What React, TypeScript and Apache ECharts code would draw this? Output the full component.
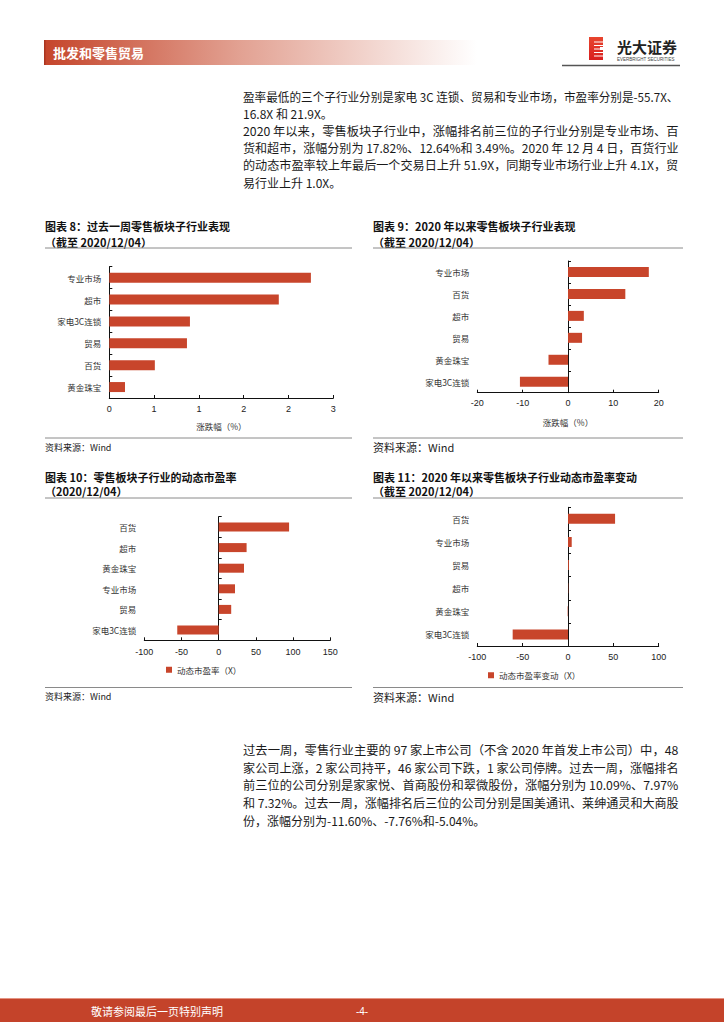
import React, { useEffect, useRef } from "react";
import * as echarts from "echarts";

const FONT = "'Liberation Sans', 'Noto Sans CJK SC', sans-serif";
const CJK = "'Noto Sans CJK SC', sans-serif";
const BAR = "#C8452B";

// 图表 8：过去一周零售板块子行业表现
const cats8 = ["专业市场", "超市", "家电3C连锁", "贸易", "百货", "黄金珠宝"];
const vals8 = [2.7, 2.27, 1.08, 1.04, 0.61, 0.21];
// 图表 9：2020 年以来零售板块子行业表现
const cats9 = ["专业市场", "百货", "超市", "贸易", "黄金珠宝", "家电3C连锁"];
const vals9 = [17.82, 12.64, 3.49, 3.1, -4.3, -10.6];
// 图表 10：零售板块子行业的动态市盈率
const cats10 = ["百货", "超市", "黄金珠宝", "专业市场", "贸易", "家电3C连锁"];
const vals10 = [94.6, 37.5, 34.0, 21.9, 16.8, -55.7];
// 图表 11：2020 年以来零售板块子行业动态市盈率变动
const cats11 = ["百货", "专业市场", "贸易", "超市", "黄金珠宝", "家电3C连锁"];
const vals11 = [51.9, 4.1, 1.0, 0.3, -0.4, -61.0];

const allCats = [cats8, cats9, cats10, cats11];
const allVals = [vals8, vals9, vals10, vals11];

// value-axis ticks
const axisMin = [0, -20, -100, -100];
const axisMax = [3, 20, 150, 100];
const axisStep = [0.6, 10, 50, 50];
const axisNames = ["涨跌幅（%）", "涨跌幅（%）", "", ""];
const seriesNames = ["涨跌幅（%）", "涨跌幅（%） ", "动态市盈率（X）", "动态市盈率变动（X）"];

const titles = [
  ["图表 8：过去一周零售板块子行业表现", "（截至 2020/12/04）"],
  ["图表 9：2020 年以来零售板块子行业表现", "（截至 2020/12/04）"],
  ["图表 10：零售板块子行业的动态市盈率", "（2020/12/04）"],
  ["图表 11：2020 年以来零售板块子行业动态市盈率变动", "（截至 2020/12/04）"],
];
const sourceText = "资料来源：Wind";

const para1 = [
  "盈率最低的三个子行业分别是家电 3C 连锁、贸易和专业市场，市盈率分别是-55.7X、",
  "16.8X 和 21.9X。",
];
const para2 = [
  "2020 年以来，零售板块子行业中，涨幅排名前三位的子行业分别是专业市场、百",
  "货和超市，涨幅分别为 17.82%、12.64%和 3.49%。2020 年 12 月 4 日，百货行业",
  "的动态市盈率较上年最后一个交易日上升 51.9X，同期专业市场行业上升 4.1X，贸",
  "易行业上升 1.0X。",
];
const para3 = [
  "过去一周，零售行业主要的 97 家上市公司（不含 2020 年首发上市公司）中，48",
  "家公司上涨，2 家公司持平，46 家公司下跌，1 家公司停牌。过去一周，涨幅排名",
  "前三位的公司分别是家家悦、首商股份和翠微股份，涨幅分别为 10.09%、7.97%",
  "和 7.32%。过去一周，涨幅排名后三位的公司分别是国美通讯、莱绅通灵和大商股",
  "份，涨幅分别为-11.60%、-7.76%和-5.04%。",
];

// layout (page pixels)
const grids = [
  { left: 109.3, top: 266.7, width: 224, height: 131.3 },
  { left: 477.3, top: 261, width: 181.4, height: 131.7 },
  { left: 144.3, top: 516.7, width: 186, height: 123.6 },
  { left: 477.3, top: 507.3, width: 181.4, height: 138.7 },
];
const panels = [
  { x: 45, x2: 352, t1: 226, t2: 242, sep: 248, bot: 438, src: 447, srcSize: 9 },
  { x: 373, x2: 683, t1: 226, t2: 242, sep: 248, bot: 438, src: 447, srcSize: 11 },
  { x: 45, x2: 352, t1: 476.7, t2: 491, sep: 498, bot: 687.5, src: 696, srcSize: 9 },
  { x: 373, x2: 683, t1: 476.7, t2: 491, sep: 498, bot: 687.5, src: 697, srcSize: 11 },
];
const labelGap = [6, 6, 7, 6];
const nameGap = [24, 25, 0, 0];
const TEXT_LEFT = 243;
const TEXT_WIDTH = 436;

function txt(x: number, y: number, text: string, font: string, fill = "#111", align = "left", scaleX = 1) {
  return {
    type: "text",
    x,
    y,
    scaleX,
    silent: true,
    style: {
      text,
      font,
      fill,
      align,
      textAlign: align,
      verticalAlign: "middle",
      textVerticalAlign: "middle",
    },
  };
}
function ln(x1: number, y1: number, x2: number, y2: number, stroke: any, lineWidth = 1) {
  return { type: "line", silent: true, shape: { x1, y1, x2, y2 }, style: { stroke, lineWidth } };
}
function rc(x: number, y: number, width: number, height: number, fill: any) {
  return { type: "rect", silent: true, shape: { x, y, width, height }, style: { fill } };
}
function measure(text: string, font: string) {
  try {
    const t = new (echarts.graphic as any).Text({ style: { text, font } });
    return t.getBoundingRect().width;
  } catch (e) {
    return TEXT_WIDTH;
  }
}
function paragraph(lines: string[], y0: number, step: number, font: string, out: any[]) {
  lines.forEach((s, k) => {
    const last = k === lines.length - 1;
    let sx = 1;
    if (!last) {
      const w = measure(s, font);
      if (w > 0) sx = Math.max(0.9, Math.min(1.12, TEXT_WIDTH / w));
    }
    out.push(txt(TEXT_LEFT, y0 + k * step, s, font, "#1a1a1a", "left", sx));
  });
}

export default function App() {
  const ref = useRef<HTMLDivElement>(null);
  useEffect(() => {
    if (!ref.current) return;
    const chart = echarts.init(ref.current, null, { renderer: "svg" });

    const xAxis: any[] = [];
    const yAxis: any[] = [];
    const series: any[] = [];
    for (let i = 0; i < 4; i++) {
      xAxis.push({
        type: "value",
        gridIndex: i,
        min: axisMin[i],
        max: axisMax[i],
        interval: axisStep[i],
        name: axisNames[i],
        nameLocation: "middle",
        nameGap: nameGap[i],
        nameTextStyle: { fontSize: 8.5, color: "#333", fontFamily: CJK },
        axisLine: { show: true, onZero: false, lineStyle: { color: "#111", width: 1 } },
        axisTick: { show: true, inside: true, length: 3, lineStyle: { color: "#111" } },
        splitLine: { show: false },
        axisLabel: {
          fontSize: 9,
          color: "#222",
          margin: labelGap[i],
          fontFamily: FONT,
          formatter: i === 0 ? (v: number) => String(Math.round(v)) : undefined,
        },
      });
      // label axis (at plot left)
      yAxis.push({
        type: "category",
        gridIndex: i,
        data: allCats[i],
        inverse: true,
        position: "left",
        axisLine: { show: false, onZero: false },
        axisTick: { show: false },
        axisLabel: { interval: 0, fontSize: 8.5, color: "#333", margin: 8, fontFamily: CJK },
      });
      // line axis (at zero)
      yAxis.push({
        type: "category",
        gridIndex: i,
        data: allCats[i],
        inverse: true,
        position: "left",
        axisLine: { show: true, onZero: true, lineStyle: { color: "#111", width: 1 } },
        axisTick: { show: true, inside: true, length: 3, lineStyle: { color: "#111" } },
        axisLabel: { show: false },
      });
      series.push({
        type: "bar",
        name: seriesNames[i],
        xAxisIndex: i,
        yAxisIndex: i * 2,
        data: allVals[i],
        barWidth: i === 2 ? 9 : 10,
        itemStyle: { color: BAR },
        silent: true,
      });
    }

    const graphics: any[] = [];
    // header
    graphics.push(
      rc(44, 40, 433, 25, new echarts.graphic.LinearGradient(0, 0, 1, 0, [
        { offset: 0, color: "#C5452B" },
        { offset: 0.45, color: "#E2A192" },
        { offset: 1, color: "#FFFFFF" },
      ]))
    );
    graphics.push(rc(44, 40, 1.5, 25, "#A93520"));
    graphics.push(
      ln(43, 65.8, 477, 65.8, new echarts.graphic.LinearGradient(0, 0, 1, 0, [
        { offset: 0, color: "#666666" },
        { offset: 1, color: "#FFFFFF" },
      ]), 1.2)
    );
    graphics.push(txt(53, 52.5, "批发和零售贸易", `bold 13px ${CJK}`, "#FFFFFF"));
    // logo
    graphics.push(
      rc(589, 37, 14, 23, new echarts.graphic.LinearGradient(0, 0, 0, 1, [
        { offset: 0, color: "#E8452E" },
        { offset: 1, color: "#D81E1E" },
      ]))
    );
    [41.5, 45, 48.5, 52, 55.5].forEach((yy) => graphics.push(rc(594, yy, 9, 1, "#FFFFFF")));
    graphics.push(rc(600, 47, 3, 3, "#FFFFFF"));
    graphics.push(txt(617, 46.5, "光大证券", `bold 15px ${CJK}`, "#222"));
    graphics.push(txt(617, 59.5, "EVERBRIGHT SECURITIES", `4.5px ${FONT}`, "#444"));
    graphics.push(ln(562, 65.5, 680, 65.5, "#555", 1.5));

    // paragraphs
    const pf = `12px ${CJK}`;
    paragraph(para1, 96, 17, pf, graphics);
    paragraph(para2, 131, 17, pf, graphics);
    paragraph(para3, 750, 17.5, pf, graphics);

    // panels
    panels.forEach((p, i) => {
      graphics.push(txt(p.x, p.t1, titles[i][0], `bold 11px ${CJK}`, "#111"));
      graphics.push(txt(p.x, p.t2, titles[i][1], `bold 11px ${CJK}`, "#111"));
      graphics.push(ln(p.x, p.sep, p.x2, p.sep, "#8a8a8a", 1));
      graphics.push(ln(p.x, p.bot, p.x2, p.bot, "#8a8a8a", 1));
      graphics.push(txt(p.x, p.src, sourceText, `${p.srcSize}px ${CJK}`, "#222"));
    });

    // footer
    graphics.push(rc(0, 998, 724, 24, "#C4432A"));
    graphics.push(ln(0, 998.5, 724, 998.5, "#E49483", 1));
    graphics.push(txt(91, 1011, "敬请参阅最后一页特别声明", `11px ${CJK}`, "#FFFFFF"));
    graphics.push(txt(362, 1011, "-4-", `10px ${FONT}`, "#FFFFFF", "center"));

    chart.setOption({
      animation: false,
      textStyle: { fontFamily: FONT },
      grid: grids.map((g) => ({ ...g, containLabel: false })),
      xAxis,
      yAxis,
      series,
      legend: [
        {
          data: [seriesNames[2]],
          left: 161,
          top: 660.5,
          icon: "rect",
          itemWidth: 6,
          itemHeight: 6,
          itemGap: 4,
          selectedMode: false,
          textStyle: { fontSize: 8.5, color: "#333", fontFamily: CJK },
        },
        {
          data: [seriesNames[3]],
          left: 483,
          top: 666,
          icon: "rect",
          itemWidth: 6,
          itemHeight: 6,
          itemGap: 4,
          selectedMode: false,
          textStyle: { fontSize: 8.5, color: "#333", fontFamily: CJK },
        },
      ],
      graphic: { elements: graphics },
    });
    return () => chart.dispose();
  }, []);
  return (
    <div
      ref={ref}
      style={{ position: "absolute", left: 0, top: 0, width: 724, height: 1024, background: "#fff" }}
    />
  );
}
